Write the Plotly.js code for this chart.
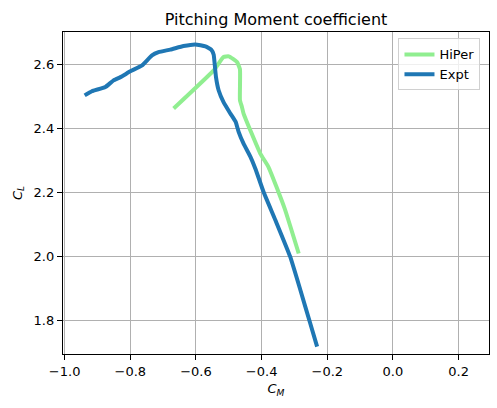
<!DOCTYPE html>
<html>
<head>
<meta charset="utf-8">
<script src="https://cdn.plot.ly/plotly-3.0.1.min.js"></script>
<style>
  html, body { margin: 0; padding: 0; background: #fff; }
  #myDiv { width: 497px; height: 408px; }
</style>
</head>
<body>
<div id="myDiv"></div>
<script>
// values
let hiper_cm = [-0.668, -0.546, -0.516, -0.500, -0.475, -0.466, -0.466, -0.460, -0.455, -0.404, -0.379, -0.330, -0.287];
let hiper_cl = [2.462, 2.581, 2.623, 2.625, 2.607, 2.585, 2.488, 2.467, 2.446, 2.321, 2.279, 2.150, 2.009];

let expt_cm = [-0.939, -0.917, -0.876, -0.851, -0.830, -0.800, -0.764, -0.734, -0.714, -0.678,
               -0.638, -0.602, -0.571, -0.553, -0.546, -0.544, -0.539, -0.531, -0.516, -0.495,
               -0.479, -0.470, -0.455, -0.434, -0.419, -0.394, -0.358, -0.313, -0.282, -0.252, -0.231];
let expt_cl = [2.503, 2.516, 2.529, 2.550, 2.560, 2.578, 2.597, 2.628, 2.638, 2.646,
               2.657, 2.662, 2.656, 2.645, 2.630, 2.612, 2.560, 2.519, 2.482, 2.446,
               2.420, 2.389, 2.352, 2.311, 2.274, 2.201, 2.113, 1.999, 1.895, 1.791, 1.718];

let font_name = 'DejaVu Sans, sans-serif';

function desenhaGrafico() {
  let data = [
    {
      x: hiper_cm,
      y: hiper_cl,
      name: 'HiPer',
      type: 'scatter',
      mode: 'lines',
      line: { color: '#90ee90', width: 4, shape: 'spline', smoothing: 0.4 }
    },
    {
      x: expt_cm,
      y: expt_cl,
      name: 'Expt',
      type: 'scatter',
      mode: 'lines',
      line: { color: '#1f77b4', width: 4, shape: 'spline', smoothing: 0.4 }
    }
  ];

  let eixo = {
    showgrid: true,
    gridcolor: '#b0b0b0',
    gridwidth: 1,
    zeroline: false,
    showline: true,
    linecolor: '#000',
    linewidth: 1.2,
    mirror: true,
    ticks: 'outside',
    ticklen: 5,
    tickwidth: 1,
    tickcolor: '#000',
    tickformat: '.1f',
    tickfont: { family: font_name, size: 13, color: '#000' }
  };

  let layout = {
    width: 497,
    height: 408,
    margin: { l: 63, r: 8, t: 32, b: 54 },
    paper_bgcolor: '#fff',
    plot_bgcolor: '#fff',
    font: { family: font_name, color: '#000' },
    title: {
      text: 'Pitching Moment coefficient',
      font: { family: font_name, size: 16, color: '#000' },
      x: 0.5,
      xref: 'paper',
      xanchor: 'center',
      y: 1,
      yref: 'paper',
      yanchor: 'bottom',
      pad: { b: 7 }
    },
    xaxis: Object.assign({}, eixo, {
      range: [-1.005, 0.2926],
      dtick: 0.2,
      tick0: 0,
      title: { text: '<i>C</i><sub><i>M</i></sub>', font: { family: font_name, size: 13 }, standoff: 6 }
    }),
    yaxis: Object.assign({}, eixo, {
      range: [1.695, 2.701],
      dtick: 0.2,
      tick0: 0,
      title: { text: '<i>C</i><sub><i>L</i></sub>', font: { family: font_name, size: 13 }, standoff: 8 }
    }),
    showlegend: true,
    legend: {
      x: 0.98,
      y: 0.98,
      xanchor: 'right',
      yanchor: 'top',
      bgcolor: 'rgba(255,255,255,0.8)',
      bordercolor: '#d0d0d0',
      borderwidth: 1,
      font: { family: font_name, size: 13, color: '#000' },
      tracegroupgap: 0
    }
  };

  Plotly.newPlot('myDiv', data, layout, { displayModeBar: false, staticPlot: true });
}

(function() {
  desenhaGrafico();
})();
</script>
</body>
</html>
